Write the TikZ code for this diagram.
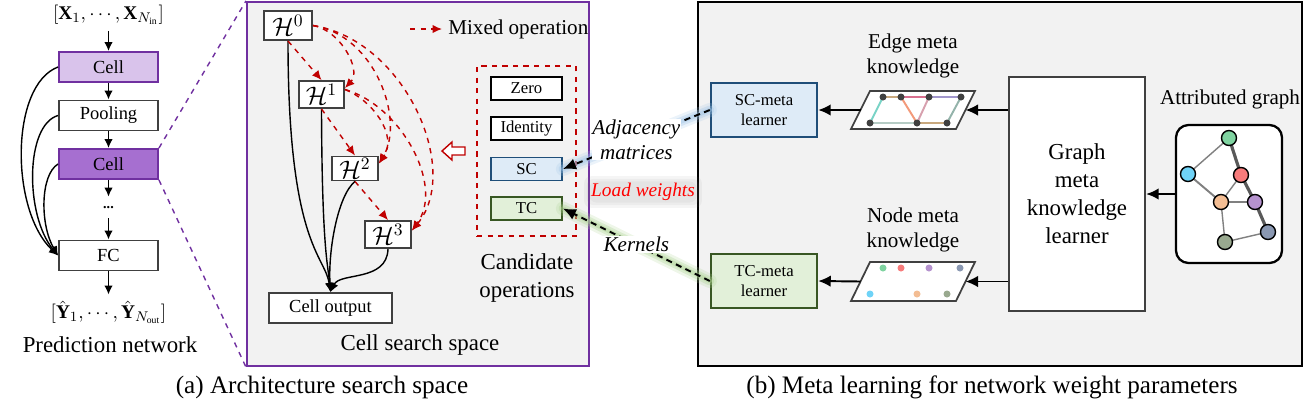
\documentclass[tikz,border=0pt]{standalone}
\usepackage{fontspec}
\setmainfont{Liberation Serif}
\usetikzlibrary{arrows.meta}
\definecolor{cellpurple}{HTML}{7030A0}
\definecolor{celllight}{HTML}{D9C3EB}
\definecolor{celldark}{HTML}{A66FD0}
\definecolor{panelgray}{HTML}{F2F2F2}
\definecolor{boxgray}{HTML}{404040}
\definecolor{scfill}{HTML}{DEEBF7}
\definecolor{scdraw}{HTML}{1F4E79}
\definecolor{tcfill}{HTML}{E2F0D9}
\definecolor{tcdraw}{HTML}{385723}
\definecolor{mixred}{HTML}{C00000}
\definecolor{glowblue}{HTML}{9DC3E6}
\definecolor{glowgreen}{HTML}{A9D18E}
\definecolor{ngreen}{HTML}{7FD3A0}
\definecolor{nblue}{HTML}{6FD3F7}
\definecolor{nred}{HTML}{F77B7B}
\definecolor{npeach}{HTML}{F3BD93}
\definecolor{npurple}{HTML}{B592CE}
\definecolor{nslate}{HTML}{8A98B2}
\definecolor{nolive}{HTML}{99A98F}
\definecolor{etan}{HTML}{C9A97F}
\definecolor{epink}{HTML}{D9708F}
\definecolor{elav}{HTML}{A297CC}
\definecolor{eteal}{HTML}{78D3C6}
\definecolor{eorange}{HTML}{F39A7A}
\definecolor{emauve}{HTML}{D7A0AE}
\definecolor{esage}{HTML}{93B3AA}
\definecolor{emint}{HTML}{B6CCC5}
\begin{document}
\begin{tikzpicture}[x=0.2mm,y=-0.2mm,
    box/.style={draw=boxgray,line width=1.1pt,fill=white,minimum width=19.8mm,minimum height=6mm,inner sep=0pt,font=\fontsize{10.5}{12}\selectfont},
    cellbox/.style={box,draw=cellpurple},
    hbox/.style={draw=boxgray,line width=1.1pt,fill=white,inner sep=1pt,minimum width=9.2mm,minimum height=5.4mm,font=\fontsize{14}{16}\selectfont},
    opbox/.style={draw=black,line width=1.1pt,fill=white,minimum width=14.2mm,minimum height=4.6mm,inner sep=0pt,font=\fontsize{9.5}{11}\selectfont},
    learner/.style={line width=1.4pt,minimum width=21.2mm,minimum height=10.8mm,align=center,font=\fontsize{9.5}{11.5}\selectfont},
    panel/.style={fill=panelgray,line width=1.2pt,inner sep=0pt},
    lbl/.style={align=center,font=\fontsize{12}{14.2}\selectfont},
    linklbl/.style={fill=white,inner sep=0.5pt,align=center,font=\itshape\fontsize{12}{14.2}\selectfont},
    captxt/.style={font=\fontsize{14.3}{16}\selectfont},
    arr/.style={-{Latex[length=1.8mm,width=1.7mm]},line width=0.8pt},
    bigarr/.style={-{Latex[length=2.5mm,width=2.3mm]},line width=1.1pt},
    mixop/.style={-{Latex[length=1.9mm,width=1.7mm]},mixred,dashed,line width=0.8pt},
    link/.style={-{Latex[length=2.6mm,width=2.3mm]},dash pattern=on 3.5pt off 2.5pt,line width=1.1pt},
    gnode/.style={circle,draw=black,line width=0.8pt,minimum size=3mm,inner sep=0pt},
  ]
  \useasboundingbox (0,0) rectangle (1313,404);
  \draw (418,184) node[panel,draw=cellpurple,minimum width=68.4mm,minimum height=72.8mm](css){};
  \draw (1000,184) node[panel,draw=black,minimum width=120.8mm,minimum height=72.8mm](meta){};

  \draw (108.5,15) node[font=\fontsize{11}{13}\selectfont](xin){$[\mathbf{X}_1,\cdots,\mathbf{X}_{N_{\mathrm{in}}}]$};
  \draw (108.5,67) node[cellbox,fill=celllight](cellA){Cell};
  \draw (108.5,115.5) node[box](pool){Pooling};
  \draw (108.5,164) node[cellbox,fill=celldark](cellB){Cell};
  \draw (108.5,207.5) node[minimum height=4.2mm,inner sep=0pt,font=\bfseries\fontsize{8}{8}\selectfont](dots){...};
  \draw (108.5,255.5) node[box](fc){FC};
  \draw (108.5,312) node[font=\fontsize{11}{13}\selectfont](yout){$[\hat{\mathbf{Y}}_1,\cdots,\hat{\mathbf{Y}}_{N_{\mathrm{out}}}]$};
  \draw (110,345) node[font=\fontsize{13}{15}\selectfont](pn){Prediction network};
  \draw
    (xin) edge[arr] (cellA)
    (cellA) edge[arr] (pool)
    (pool) edge[arr] (cellB)
    (cellB) edge[arr] (dots)
    (dots) edge[arr] (fc)
    (fc) edge[arr] (yout)
  ;
  \draw[arr] (cellA.west) .. controls (10,85) and (10,210) .. (fc.west);
  \draw[arr] (pool.west) .. controls (25,125) and (25,215) .. (fc.west);
  \draw[arr] (cellB.west) .. controls (40,175) and (40,225) .. (fc.west);
  \draw[cellpurple,dashed,line width=0.8pt]
    (cellB.north east) -- (css.north west)
    (cellB.south east) -- (css.south west)
  ;

  \draw (288,25.5) node[hbox,minimum width=9.6mm,minimum height=5.8mm](h0){$\mathcal{H}^0$};
  \draw (321.5,94.5) node[hbox,minimum width=9mm](h1){$\mathcal{H}^1$};
  \draw (355,168.5) node[hbox,minimum height=3.8mm](h2){$\mathcal{H}^2$};
  \draw (388,234.5) node[hbox](h3){$\mathcal{H}^3$};
  \draw (330.5,308) node[box,minimum width=24.6mm](out){Cell output};
  \draw[arr] (h0.south) .. controls (288,245) and (325,255) .. (out.north);
  \draw[arr] (h1.south) .. controls (322,250) and (328,265) .. (out.north);
  \draw[arr] (h2.south) .. controls (338,195) and (328,250) .. (out.north);
  \draw[arr] (h3.south) .. controls (387,282) and (340,272) .. (out.north);
  \draw
    (h0.south) edge[mixop] (h1.north)
    (h1.south) edge[mixop] (h2.north)
    (h2.south) edge[mixop] (h3.north)
  ;
  \draw[mixop] (h0.east) .. controls (340,30) and (362,70) .. ([yshift=1.3mm]h1.east);
  \draw[mixop] (h0.east) .. controls (375,35) and (405,120) .. ([yshift=1mm]h2.east);
  \draw[mixop] ([yshift=1mm]h1.east) .. controls (372,100) and (398,135) .. ([yshift=1mm]h2.east);
  \draw[mixop] (h0.east) .. controls (405,40) and (462,170) .. ([yshift=0.8mm]h3.east);
  \draw[mixop] ([yshift=1mm]h1.east) .. controls (400,105) and (445,185) .. ([yshift=0.8mm]h3.east);
  \draw (448,29) node[anchor=west,inner sep=0pt,font=\fontsize{12}{14}\selectfont](mixtxt){Mixed operation};
  \coordinate (mixsrc) at (410,29);
  \draw[mixop] (mixsrc) -- ([xshift=-1.2mm]mixtxt.west);

  \draw (526.5,151) node[draw=mixred,dashed,line width=0.8pt,minimum width=19.8mm,minimum height=34mm](cand){};
  \draw (526.5,88.5) node[opbox](zero){Zero};
  \draw (526.5,128.5) node[opbox](ident){Identity};
  \draw (526.5,169) node[opbox,fill=scfill,draw=scdraw](sc){SC};
  \draw (526.5,208.5) node[opbox,fill=tcfill,draw=tcdraw](tc){TC};
  \draw (527,278) node[align=center,font=\fontsize{13}{16}\selectfont](candtxt){Candidate\\operations};
  \draw (420,345) node[font=\fontsize{13}{15}\selectfont](csstxt){Cell search space};
  \draw[draw=mixred,fill=white,line width=0.8pt,line join=miter]
    (442,151) -- (452,142) -- (452,147) -- (465,147) -- (465,155) -- (452,155) -- (452,160) -- cycle;

  \draw (764,110) node[learner,draw=scdraw,fill=scfill](scml){SC-meta\\learner};
  \draw (764,281) node[learner,draw=tcdraw,fill=tcfill](tcml){TC-meta\\learner};
  \draw (1077,194) node[draw=boxgray,line width=1.3pt,fill=white,minimum width=27.2mm,minimum height=46.8mm,align=center,font=\fontsize{13}{16}\selectfont](gml){Graph\\meta\\knowledge\\learner};
  \draw (1229,194) node[draw=black,line width=1.3pt,fill=white,rounded corners=2.5mm,minimum width=21.2mm,minimum height=27.6mm](ag){};
  \draw (1230,99) node[lbl](agtxt){Attributed graph};
  \draw (913,55.5) node[lbl](edgetxt){Edge meta\\knowledge};
  \draw (913,230) node[lbl](nodetxt){Node meta\\knowledge};

  \draw[fill=white,draw=boxgray,line width=1pt] (851,129) -- (870,91) -- (975,91) -- (956,129) -- cycle;
  \coordinate (edgeL) at (860.5,110);
  \coordinate (edgeR) at (965.5,110);
  \foreach \n/\x/\y in {e1/883/97,e2/901/97,e3/929/97,e4/961/97,e5/870/123,e6/917/123,e7/947/123}
    \coordinate (\n) at (\x,\y);
  \foreach \a/\b/\c in {e1/e2/etan,e2/e3/epink,e3/e4/elav,e1/e5/eteal,e2/e6/eorange,e3/e6/emauve,e4/e7/esage,e5/e6/emint,e6/e7/etan}
    \draw[\c,line width=1.1pt] (\a) -- (\b);
  \foreach \n in {e1,e2,e3,e4,e5,e6,e7}
    \fill[boxgray] (\n) circle (0.7mm);

  \draw[fill=white,draw=boxgray,line width=1pt] (851,301) -- (870,262) -- (975,262) -- (956,301) -- cycle;
  \coordinate (nodeL) at (860.5,281.5);
  \coordinate (nodeR) at (965.5,281.5);
  \foreach \x/\y/\c in {883/268/ngreen,901/268/nred,929/268/npurple,960/268/nslate,870/294/nblue,917/294/npeach,947/294/nolive}
    \fill[\c] (\x,\y) circle (0.7mm);

  \foreach \n/\x/\y in {g1/1229/138,g2/1188/174,g3/1241/175,g4/1221/202,g5/1255/202,g6/1268/232,g7/1225/242}
    \coordinate (\n) at (\x,\y);
  \draw[gray,line width=0.8pt] (g1) -- (g2) (g3) -- (g4) (g7) -- (g6) (g4) -- (g7);
  \draw[gray,line width=1.1pt] (g2) -- (g4) (g4) -- (g5);
  \draw[black!65,line width=1.8pt] (g1) -- (g3) -- (g5) -- (g6);
  \foreach \n/\c in {g1/ngreen,g2/nblue,g3/nred,g4/npeach,g5/npurple,g6/nslate,g7/nolive}
    \draw (\n) node[gnode,fill=\c](\n c){};

  \draw
    (edgeL) edge[bigarr] (scml.east)
    (gml.west |- edgeR) edge[bigarr] (edgeR)
    (nodeL) edge[bigarr] (tcml.east)
    (gml.west |- nodeR) edge[bigarr] (nodeR)
    (ag.west) edge[bigarr] (gml.east)
  ;

  \foreach \w/\o in {8/0.2,5/0.3,2.5/0.4}
    \draw[glowblue,line width=\w pt,opacity=\o,line cap=round] (sc.east) -- (scml.west);
  \foreach \w/\o in {8/0.2,5/0.3,2.5/0.4}
    \draw[glowgreen,line width=\w pt,opacity=\o,line cap=round] (tc.east) -- (tcml.west);
  \draw[link] (scml.west) -- node[linklbl](adj){Adjacency\\matrices} (sc.east);
  \draw[link] (tcml.west) -- node[linklbl](kern){Kernels} (tc.east);
  \foreach \g in {1,2.5,4}
    \draw (643,192) node[fill=gray,fill opacity=0.08,text opacity=0,rounded corners=4pt,inner sep=\g pt,font=\itshape\fontsize{11}{13}\selectfont]{Load weights};
  \draw (643,192) node[text=red,font=\itshape\fontsize{11}{13}\selectfont](load){Load weights};

  \draw (322,387) node[captxt](capa){(a) Architecture search space};
  \draw (992,387) node[captxt](capb){(b) Meta learning for network weight parameters};
\end{tikzpicture}
\end{document}
